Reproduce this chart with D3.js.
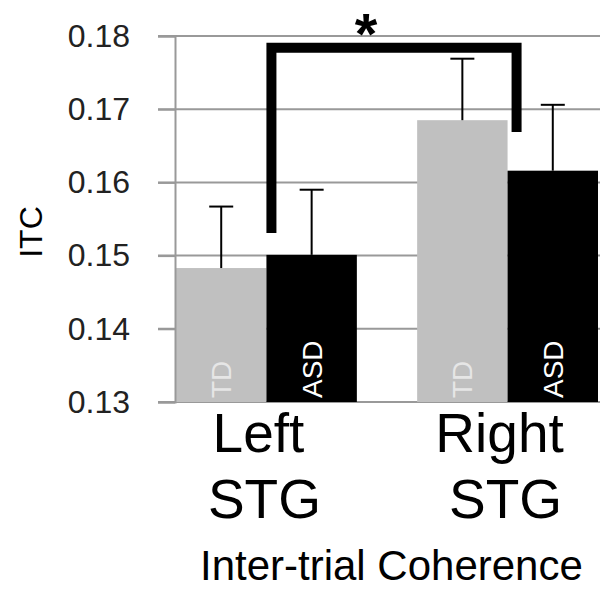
<!DOCTYPE html>
<html>
<head>
<meta charset="utf-8">
<script src="https://cdn.jsdelivr.net/npm/d3@7"></script>
<style>
  body { margin: 0; background: #fff; }
  text { font-family: "Liberation Sans", Arial, sans-serif; }
</style>
</head>
<body>
<script>
var categories = ["Left STG", "Right STG"];
var groups = ["TD", "ASD"];
var tdValues = [0.1483, 0.1685];
var asdValues = [0.1501, 0.1616];
var tdErrors = [0.0084, 0.0084];
var asdErrors = [0.0089, 0.0090];
var yTicks = [0.13, 0.14, 0.15, 0.16, 0.17, 0.18];
// bracket ends and top, in data units
var bracketLeft = 0.1531, bracketRight = 0.1669, bracketTop = 0.1784;

var rows = [];
categories.forEach(function (c, i) {
  rows.push({ cat: c, grp: "TD", value: tdValues[i], err: tdErrors[i] });
  rows.push({ cat: c, grp: "ASD", value: asdValues[i], err: asdErrors[i] });
});

var width = 600, height = 590;
var svg = d3.select("body").append("svg")
  .attr("width", width)
  .attr("height", height);

var y = d3.scaleLinear().domain([0.13, 0.18]).range([402, 36]);
var x0 = d3.scaleBand().domain(categories).range([176, 598]).paddingInner(0.25).paddingOuter(0);
var x1 = d3.scaleBand().domain(groups).range([0, x0.bandwidth()]);
var colors = { TD: "#c0c0c0", ASD: "#000" };

// gridlines
svg.append("g").selectAll("line").data(yTicks)
  .enter().append("line")
  .attr("x1", 158).attr("x2", width)
  .attr("y1", d => y(d)).attr("y2", d => y(d))
  .attr("stroke", "#999")
  .attr("stroke-width", 2);

// bars
svg.append("g").selectAll("rect").data(rows)
  .enter().append("rect")
  .attr("x", d => x0(d.cat) + x1(d.grp))
  .attr("y", d => y(d.value))
  .attr("width", x1.bandwidth())
  .attr("height", d => y(0.13) - y(d.value))
  .attr("fill", d => colors[d.grp]);

// y axis
var axis = svg.append("g")
  .attr("transform", "translate(175,0)")
  .call(d3.axisLeft(y).tickValues(yTicks).tickFormat(d3.format(".2f")).tickSize(17).tickPadding(28));
axis.select(".domain").attr("stroke", "#999").attr("stroke-width", 2);
axis.selectAll(".tick line").attr("stroke", "#999").attr("stroke-width", 2);
axis.selectAll(".tick text")
  .attr("font-size", 32)
  .attr("font-family", "'Liberation Sans', Arial, sans-serif")
  .attr("fill", "#222");

// error bars
var eb = svg.append("g").selectAll("g").data(rows).enter().append("g")
  .attr("stroke", "#000").attr("stroke-width", 2);
eb.append("line")
  .attr("x1", d => x0(d.cat) + x1(d.grp) + x1.bandwidth() / 2)
  .attr("x2", d => x0(d.cat) + x1(d.grp) + x1.bandwidth() / 2)
  .attr("y1", d => y(d.value))
  .attr("y2", d => y(d.value + d.err));
eb.append("line")
  .attr("x1", d => x0(d.cat) + x1(d.grp) + x1.bandwidth() / 2 - 12)
  .attr("x2", d => x0(d.cat) + x1(d.grp) + x1.bandwidth() / 2 + 12)
  .attr("y1", d => y(d.value + d.err))
  .attr("y2", d => y(d.value + d.err));

// bar labels
svg.append("g").selectAll("text").data(rows)
  .enter().append("text")
  .attr("transform", d => "translate(" + (x0(d.cat) + x1(d.grp) + x1.bandwidth() / 2 + 10) + ",398) rotate(-90)")
  .attr("font-size", 28)
  .attr("fill", d => d.grp === "TD" ? "#e6e6e6" : "#fff")
  .text(d => d.grp);

// significance bracket
var bxL = x0(categories[0]) + x1("ASD") + 5;
var bxR = x0(categories[1]) + x1("ASD") + 9;
svg.append("path")
  .attr("d", d3.line()([[bxL, y(bracketLeft)], [bxL, y(bracketTop)], [bxR, y(bracketTop)], [bxR, y(bracketRight)]]))
  .attr("fill", "none")
  .attr("stroke", "#000")
  .attr("stroke-width", 10);

svg.append("text")
  .attr("x", (bxL + bxR) / 2 - 28)
  .attr("y", 54)
  .attr("text-anchor", "middle")
  .attr("font-size", 58)
  .attr("font-weight", "bold")
  .text("*");

// category labels
var cl = svg.append("g").selectAll("text").data(categories)
  .enter().append("text")
  .attr("text-anchor", "middle")
  .attr("font-size", 55)
  .attr("fill", "#000");
cl.append("tspan")
  .attr("x", d => x0(d) + x0.bandwidth() / 2 - 8)
  .attr("y", 452)
  .text(d => d.split(" ")[0]);
cl.append("tspan")
  .attr("x", d => x0(d) + x0.bandwidth() / 2 - 2)
  .attr("y", 518)
  .text(d => d.split(" ")[1]);

// axis titles
svg.append("text")
  .attr("transform", "translate(42,232) rotate(-90)")
  .attr("text-anchor", "middle")
  .attr("font-size", 32)
  .text("ITC");

svg.append("text")
  .attr("x", 200)
  .attr("y", 580)
  .attr("font-size", 42)
  .text("Inter-trial Coherence");
</script>
</body>
</html>
